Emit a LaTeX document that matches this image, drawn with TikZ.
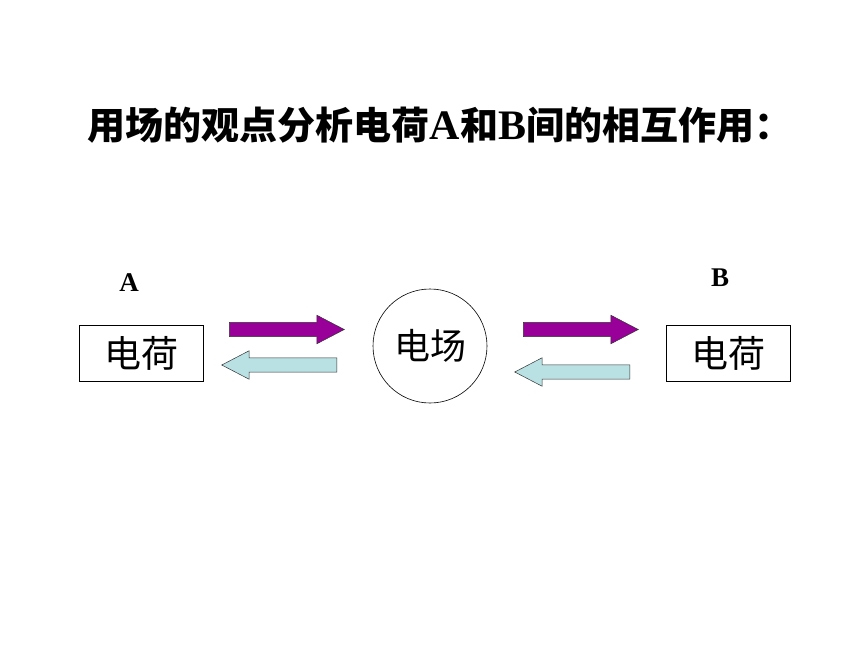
\documentclass[tikz,border=0pt]{standalone}
\usepackage{fontspec}
\setmainfont{Liberation Serif}
\newfontfamily\cjk{Noto Sans CJK SC}
\usetikzlibrary{shapes.arrows}

\definecolor{fieldpurple}{RGB}{153,0,153}
\definecolor{fieldcyan}{RGB}{185,225,228}

\newcommand{\titleletter}[1]{{\rmfamily\bfseries\fontsize{42}{44}\selectfont #1}}

\tikzset{
  chargebox/.style={draw, line width=0.6pt, minimum width=124pt, minimum height=56pt,
    inner sep=0pt, font=\cjk\fontsize{37}{40}\selectfont},
  fatarrow/.style={single arrow, draw=black!80, line width=0.5pt, inner sep=6.8pt,
    minimum height=115pt, minimum width=28pt, single arrow head extend=7.2pt,
    single arrow tip angle=55, anchor=tail},
  pusharrow/.style={fatarrow, fill=fieldpurple},
  backarrow/.style={fatarrow, fill=fieldcyan, shape border rotate=180},
  letter/.style={font=\bfseries\fontsize{27}{30}\selectfont}
}

\begin{document}
\begin{tikzpicture}[x=1pt, y=-1pt]
\useasboundingbox (0,0) rectangle (860,645);

\node (title) at (440,125) {\cjk\bfseries\fontsize{38}{44}\selectfont
  用场的观点分析电荷\titleletter{A}和\titleletter{B}间的相互作用：};

\node[chargebox] (chargeA) at (141,353) {电荷};
\node[chargebox] (chargeB) at (728,353) {电荷};
\node[draw, circle, line width=0.6pt, minimum size=114pt, inner sep=0pt,
  font=\cjk\fontsize{36}{40}\selectfont] (field) at (430,346) {电场};

\node[letter] (labA) at (129,283) {A};
\node[letter] (labB) at (720,278) {B};

% A -> field -> B, and back
\node[pusharrow] (a2f) at (229,329.5) {};
\node[backarrow] (f2a) at (337,365) {};
\node[pusharrow] (f2b) at (523,329.5) {};
\node[backarrow] (b2f) at (630,372) {};
\end{tikzpicture}
\end{document}
